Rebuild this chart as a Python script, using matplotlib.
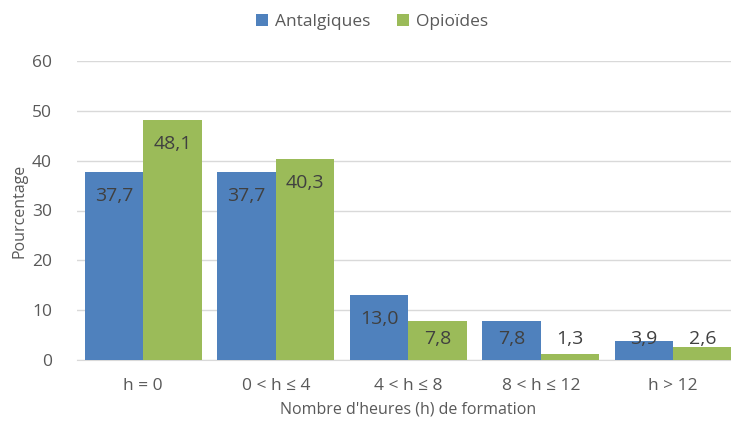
import matplotlib.pyplot as plt
import numpy as np

categories = ["h = 0", "0 < h ≤ 4", "4 < h ≤ 8", "8 < h ≤ 12", "h > 12"]
antalgiques = [37.7, 37.7, 13.0, 7.8, 3.9]
opioides = [48.1, 40.3, 7.8, 1.3, 2.6]

blue = "#4F81BD"
green = "#9BBB59"
txt = "#404040"

plt.rcParams['font.family'] = ['Open Sans', 'DejaVu Sans']

fig = plt.figure(figsize=(7.31, 4.25), dpi=100)
ax = fig.add_axes([77/731, 65/425, 662.5/731, 299/425])

x = np.arange(len(categories))
w = 0.44
ax.bar(x - w/2, antalgiques, w, color=blue, label="Antalgiques", zorder=3)
ax.bar(x + w/2, opioides, w, color=green, label="Opioïdes", zorder=3)

def fmt(v):
    return f"{v:.1f}".replace(".", ",")

for xs, vals in ((x - w/2, antalgiques), (x + w/2, opioides)):
    for xi, v in zip(xs, vals):
        ax.text(xi, max(v - 4.8, 4.2), fmt(v), ha="center", va="center",
                fontsize=14, color=txt, zorder=4)

ax.set_xlim(-0.5, len(categories) - 0.5)
ax.set_ylim(0, 60)
ax.set_yticks(range(0, 61, 10))
ax.set_xticks(x)
ax.set_xticklabels(categories)
ax.tick_params(axis="both", length=0, labelsize=12.5, colors="#595959")
ax.tick_params(axis="x", pad=13)
ax.tick_params(axis="y", pad=18)
ax.grid(axis="y", color="#D9D9D9", linewidth=1, zorder=0)
for s in ("top", "right", "left"):
    ax.spines[s].set_visible(False)
ax.spines["bottom"].set_color("#D9D9D9")

ax.set_ylabel("Pourcentage", fontsize=11.5, color="#595959", labelpad=3)
ax.set_xlabel("Nombre d'heures (h) de formation", fontsize=11.5, color="#595959", labelpad=5)

fig.legend(loc="center", bbox_to_anchor=(372/731, 1 - 22/425), ncol=2, frameon=False,
           fontsize=12.5, handlelength=0.7, handleheight=0.7, columnspacing=1.5,
           handletextpad=0.4, labelcolor="#595959")

fig.savefig("out.png", dpi=100)
